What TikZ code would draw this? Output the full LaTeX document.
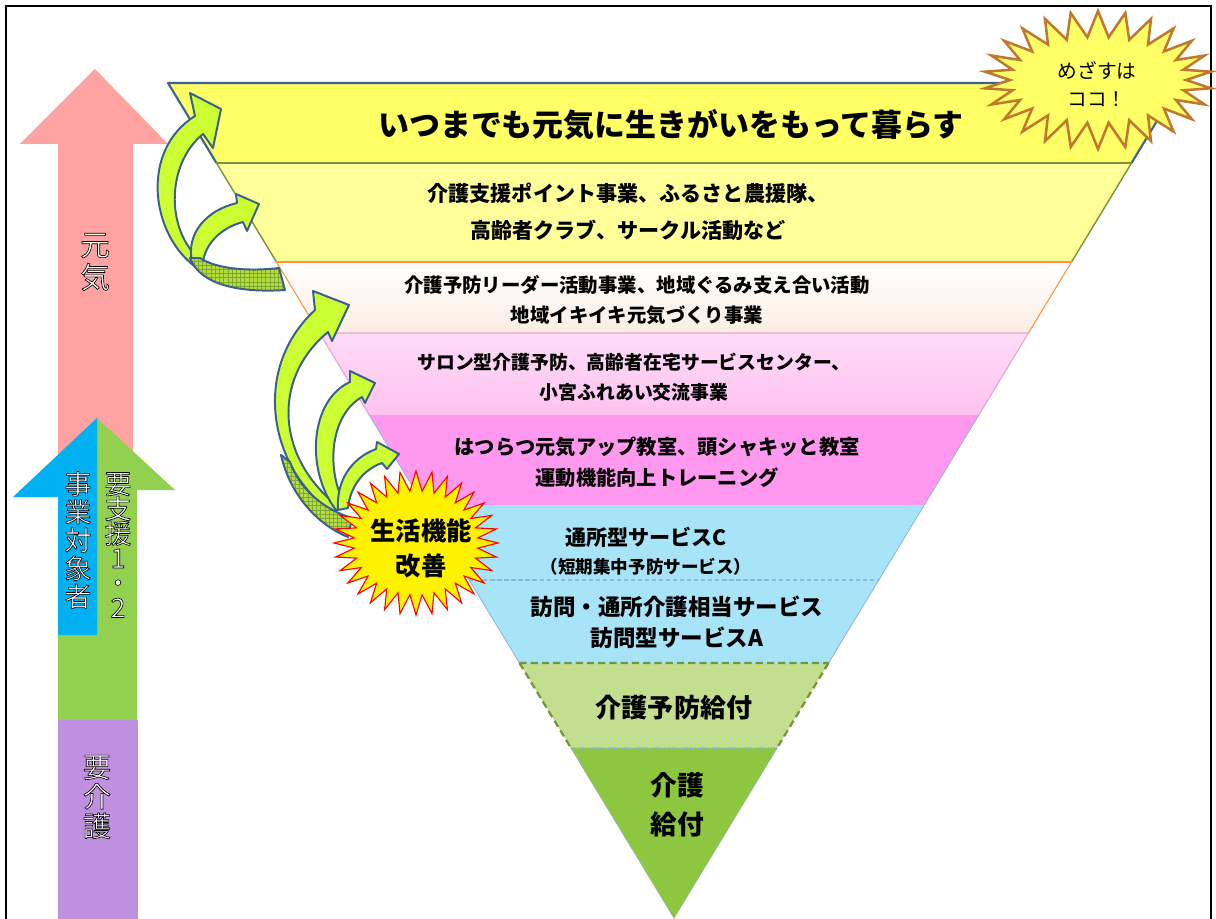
\documentclass[tikz,border=0pt]{standalone}
\usepackage{fontspec}
\setmainfont{Noto Sans CJK JP}
\usetikzlibrary{calc,shapes.symbols,patterns}
\definecolor{RiseRed}{HTML}{FFA2A2}
\definecolor{ProjectBlue}{HTML}{00B0F0}
\definecolor{SupportGreen}{HTML}{92D050}
\definecolor{CarePurple}{HTML}{C090E0}
\definecolor{TopYellow}{HTML}{FFFF66}
\definecolor{SoftYellow}{HTML}{FFFF99}
\definecolor{PeachTop}{HTML}{FFFFFF}
\definecolor{PeachBottom}{HTML}{FBEDE3}
\definecolor{PinkTop}{HTML}{FFDCF8}
\definecolor{PinkBottom}{HTML}{FFC2F0}
\definecolor{Magenta}{HTML}{FF99F0}
\definecolor{SkyBlue}{HTML}{A8E4F8}
\definecolor{PaleGreen}{HTML}{C4DE90}
\definecolor{LeafGreen}{HTML}{8DC63F}
\definecolor{EdgeBlue}{HTML}{3A6296}
\definecolor{Olive}{HTML}{77933C}
\definecolor{EdgeOrange}{HTML}{F79646}
\definecolor{PinkEdge}{HTML}{E3A6CC}
\definecolor{SkyEdge}{HTML}{8DB3E2}
\definecolor{Lime}{HTML}{CCFF33}
\definecolor{ArrowEdge}{HTML}{3B5F8E}
\definecolor{TailGreen}{HTML}{B4DC3C}
\definecolor{TailGrid}{HTML}{7FA832}
\definecolor{BurstYellow}{HTML}{FFFF66}
\definecolor{BurstBrown}{HTML}{C0782E}
\newcommand\setfs[2]{\fontsize{#1}{#2}\selectfont}
% white letters with a black rim (fill + stroke text mode)
\newcommand\hollow[1]{\special{pdf:literal direct 2 Tr 0.45 w 0 0 0 RG}#1\special{pdf:literal direct 0 Tr}}
\tikzset{
  bandtext/.style={align=center, inner sep=0pt},
  sidetext/.style={text=white, align=center, inner sep=0pt},
  liftarrow/.style={fill=Lime, draw=ArrowEdge, line width=1.4pt, line join=round},
  liftback/.style={draw=ArrowEdge, line width=1.4pt, line join=round,
    preaction={fill=TailGreen}, pattern=grid, pattern color=TailGrid},
  burst/.style={starburst, random starburst=0, inner sep=0pt}
}
\begin{document}
\begin{tikzpicture}[x=0.025cm, y=-0.025cm]
\useasboundingbox (0,0) rectangle (1216,919);
% frame
\draw[line width=1.4pt] (6,930) -- (6,6) -- (1211,6) -- (1211,930);

% left scale arrows
\fill[RiseRed] (58,460) -- (58,144) -- (20,144) -- (95,69) -- (168,144) -- (133,144) -- (133,460) -- cycle;
\fill[SupportGreen] (58,720) -- (58,630) -- (97,630) -- (97,418) -- (175,490) -- (137,490) -- (137,720) -- cycle;
\fill[ProjectBlue] (58,635) -- (58,497) -- (13,497) -- (97,418) -- (97,635) -- cycle;
\fill[CarePurple] (58,720) rectangle (138,930);
\node[sidetext, font=\setfs{21}{23}] (genki) at (95,262) {\hollow{元\\気}};
\node[sidetext, font=\setfs{19}{20}] (target) at (78,540) {\hollow{事\\業\\対\\象\\者}};
\node[sidetext, font=\setfs{19}{17.6}] (support) at (118,545) {\hollow{要\\支\\援\\1\\・\\2}};
\node[sidetext, font=\setfs{20}{21}] (care) at (97,797) {\hollow{要\\介\\護}};

% inverted triangle
\coordinate (apex) at (674,918);
\foreach \n/\y in {0/83,1/163,2/262,3/333,4/415,5/505,6/580,7/663,8/748} {
  \coordinate (L\n) at ({168+0.606*(\y-83)},\y);
  \coordinate (R\n) at ({1180-0.606*(\y-83)},\y);
}
\fill[TopYellow] (L0) -- (R0) -- (R1) -- (L1) -- cycle;
\fill[SoftYellow] (L1) -- (R1) -- (R2) -- (L2) -- cycle;
\shade[top color=PeachTop, bottom color=PeachBottom] (L2) -- (R2) -- (R3) -- (L3) -- cycle;
\shade[top color=PinkTop, bottom color=PinkBottom] (L3) -- (R3) -- (R4) -- (L4) -- cycle;
\fill[Magenta] (L4) -- (R4) -- (R5) -- (L5) -- cycle;
\fill[SkyBlue] (L5) -- (R5) -- (R7) -- (L7) -- cycle;
\fill[PaleGreen] (L7) -- (R7) -- (R8) -- (L8) -- cycle;
\fill[LeafGreen] (L8) -- (R8) -- (apex) -- cycle;
\draw[EdgeBlue, line width=1.5pt, line join=round] (L1) -- (L0) -- (R0) -- (R1);
\draw[Olive, line width=1.4pt] (L1) -- (R1);
\draw[Olive, line width=1pt] (L1) -- (L2) (R1) -- (R2);
\draw[EdgeOrange, line width=1.2pt] (L2) -- (R2);
\draw[EdgeOrange, line width=0.8pt] (L2) -- (L3) (R2) -- (R3);
\draw[PinkEdge, line width=0.8pt] (L3) -- (R3) (L3) -- (L4) (R3) -- (R4);
\draw[SkyEdge, line width=0.6pt] (L4) -- (L7) (R4) -- (R7);
\draw[SkyEdge, dash pattern=on 3pt off 2pt, line width=0.8pt] (L6) -- (R6);
\draw[Olive, dash pattern=on 5pt off 3pt, line width=1.6pt] (L7) -- (R7) (L7) -- (L8) (R7) -- (R8);
\draw[SkyEdge, densely dotted, line width=1pt] (L8) -- (R8);
\draw[SkyEdge!50!LeafGreen, line width=0.6pt] (L8) -- (apex) -- (R8);

% band texts
\node[bandtext, font=\bfseries\setfs{22}{26}] (life) at (671,125) {いつまでも元気に生きがいをもって暮らす};
\node[bandtext, font=\bfseries\setfs{15}{26}] (club) at (628,212)
  {介護支援ポイント事業、ふるさと農援隊、\\高齢者クラブ、サークル活動など};
\node[bandtext, font=\bfseries\setfs{13.8}{21}] (leader) at (637,300)
  {介護予防リーダー活動事業、地域ぐるみ支え合い活動\\地域イキイキ元気づくり事業};
\node[bandtext, font=\bfseries\setfs{13.4}{21}] (salon) at (634,377)
  {サロン型介護予防、高齢者在宅サービスセンター、\\小宮ふれあい交流事業};
\node[bandtext, font=\bfseries\setfs{14.4}{22}] (class) at (657,462)
  {はつらつ元気アップ教室、頭シャキッと教室\\運動機能向上トレーニング};
\node[bandtext, font=\bfseries\setfs{15}{20}] (servC) at (646,551)
  {通所型サービスC\\{\setfs{12.5}{20}（短期集中予防サービス）}};
\node[bandtext, font=\bfseries\setfs{16}{22}] (servA) at (677,622)
  {訪問・通所介護相当サービス\\訪問型サービスA};
\node[bandtext, font=\bfseries\setfs{18.5}{22}] (prevent) at (674,708) {介護予防給付};
\node[bandtext, font=\bfseries\setfs{19}{28}] (benefit) at (677,805) {介護\\給付};

% curved step-up arrows
\draw[liftarrow] (197,268) .. controls (150,235) and (140,150) .. (195,116) -- (190,93) -- (221,109)
  -- (213,148) -- (203,134) .. controls (165,165) and (165,235) .. (205,264) -- cycle;
\draw[liftarrow] (193,265) .. controls (185,240) and (200,212) .. (237,203) -- (236,194) -- (259,204)
  -- (247,231) -- (243,222) .. controls (220,228) and (205,245) .. (203,262) -- cycle;
\draw[liftback] (190,258) .. controls (200,285) and (240,293) .. (285,290) -- (279,268)
  .. controls (245,272) and (215,268) .. (200,258) -- cycle;
\draw[liftarrow] (333,513) .. controls (270,470) and (250,370) .. (315,310) -- (313,291) -- (349,305)
  -- (332,341) -- (328,332) .. controls (270,380) and (278,460) .. (338,506) -- cycle;
\draw[liftarrow] (336,510) .. controls (305,470) and (310,400) .. (350,382) -- (350,371) -- (375,383)
  -- (365,403) -- (362,397) .. controls (330,415) and (325,470) .. (346,507) -- cycle;
\draw[liftarrow] (338,510) .. controls (336,480) and (352,458) .. (376,449) -- (377,442) -- (399,454)
  -- (387,469) -- (382,463) .. controls (362,470) and (350,488) .. (348,508) -- cycle;
\draw[liftback] (281,455) .. controls (290,495) and (318,525) .. (348,537) -- (352,518)
  .. controls (325,510) and (300,490) .. (290,462) -- cycle;

% starbursts
\node[burst, fill=BurstYellow, draw=BurstBrown, line width=1.8pt, minimum width=5.7cm,
  minimum height=3.45cm, starburst points=26, starburst point height=0.65cm] (goal) at (1098,80) {};
\node[bandtext, font=\setfs{14}{20}] (goaltext) at (1097,84) {めざすは\\ココ！};
\node[burst, fill=yellow, draw=red, line width=0.8pt, minimum width=4.1cm,
  minimum height=3.6cm, starburst points=32, starburst point height=0.5cm] (gain) at (416,543) {};
\node[bandtext, font=\bfseries\setfs{18}{25}] (gaintext) at (421,548) {生活機能\\改善};
\end{tikzpicture}
\end{document}
